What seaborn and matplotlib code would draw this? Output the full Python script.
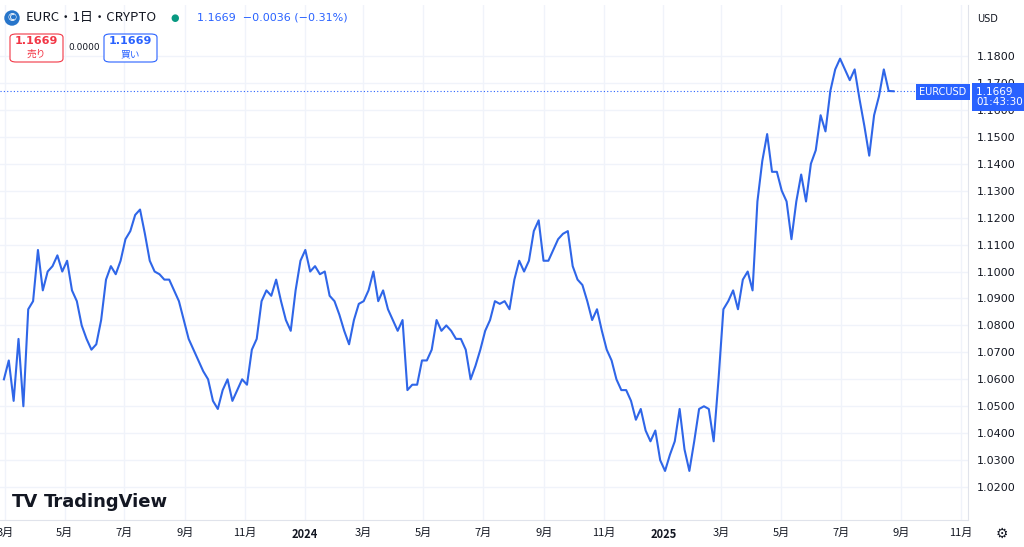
import matplotlib
matplotlib.use("Agg")
import matplotlib.pyplot as plt
import numpy as np
import pandas as pd
import seaborn as sns
from matplotlib.patches import FancyBboxPatch

# ==========================================
# DATA
# ==========================================
prices = [
    1.060, 1.067, 1.052, 1.075, 1.050, 1.086, 1.089, 1.108, 1.093, 1.100,
    1.102, 1.106, 1.100, 1.104, 1.093, 1.089, 1.080, 1.075, 1.071, 1.073,
    1.082, 1.097, 1.102, 1.099, 1.104, 1.112, 1.115, 1.121, 1.123, 1.114,
    1.104, 1.100, 1.099, 1.097, 1.097, 1.093, 1.089, 1.082, 1.075, 1.071,
    1.067, 1.063, 1.060, 1.052, 1.049, 1.056, 1.060, 1.052, 1.056, 1.060,
    1.058, 1.071, 1.075, 1.089, 1.093, 1.091, 1.097, 1.089, 1.082, 1.078,
    1.093, 1.104, 1.108, 1.100, 1.102, 1.099, 1.100, 1.091, 1.089, 1.084,
    1.078, 1.073, 1.082, 1.088, 1.089, 1.093, 1.100, 1.089, 1.093, 1.086,
    1.082, 1.078, 1.082, 1.056, 1.058, 1.058, 1.067, 1.067, 1.071, 1.082,
    1.078, 1.080, 1.078, 1.075, 1.075, 1.071, 1.060, 1.065, 1.071, 1.078,
    1.082, 1.089, 1.088, 1.089, 1.086, 1.097, 1.104, 1.100, 1.104, 1.115,
    1.119, 1.104, 1.104, 1.108, 1.112, 1.114, 1.115, 1.102, 1.097, 1.095,
    1.089, 1.082, 1.086, 1.078, 1.071, 1.067, 1.060, 1.056, 1.056, 1.052,
    1.045, 1.049, 1.041, 1.037, 1.041, 1.030, 1.026, 1.032, 1.037, 1.049,
    1.034, 1.026, 1.037, 1.049, 1.050, 1.049, 1.037, 1.060, 1.086, 1.089,
    1.093, 1.086, 1.097, 1.100, 1.093, 1.126, 1.141, 1.151, 1.137, 1.137,
    1.130, 1.126, 1.112, 1.126, 1.136, 1.126, 1.140, 1.145, 1.158, 1.152,
    1.167, 1.175, 1.179, 1.175, 1.171, 1.175, 1.164, 1.154, 1.143, 1.158,
    1.165, 1.175, 1.167, 1.1669,
]
START_DATE = "2023-02-28"
END_DATE = "2025-08-24"
LAST_PRICE = 1.1669

month_ticks = ["2023-03-01", "2023-05-01", "2023-07-01", "2023-09-01", "2023-11-01",
               "2024-01-01", "2024-03-01", "2024-05-01", "2024-07-01", "2024-09-01",
               "2024-11-01", "2025-01-01", "2025-03-01", "2025-05-01", "2025-07-01",
               "2025-09-01", "2025-11-01"]
month_labels = ["3月", "5月", "7月", "9月", "11月", "2024", "3月", "5月", "7月", "9月",
                "11月", "2025", "3月", "5月", "7月", "9月", "11月"]
price_ticks = [1.02, 1.03, 1.04, 1.05, 1.06, 1.07, 1.08, 1.09, 1.10, 1.11,
               1.12, 1.13, 1.14, 1.15, 1.16, 1.17, 1.18]

BLUE = "#2962ff"
LINE = "#2f66e8"
TXT = "#131722"
JP = "Noto Sans CJK JP"

df = pd.DataFrame({"date": pd.date_range(START_DATE, END_DATE, periods=len(prices)),
                   "price": prices})

fig = plt.figure(figsize=(10.24, 5.47), dpi=100)
W, H = 1024, 547
ax = fig.add_axes([0, (H - 520) / H, 968 / W, 515 / H])

sns.lineplot(data=df, x="date", y="price", ax=ax, color=LINE, linewidth=1.5)

ax.set_xlim(pd.Timestamp("2023-02-24"), pd.Timestamp("2025-11-08"))
ax.set_ylim(1.0078, 1.1989)
ax.set_xticks(pd.to_datetime(month_ticks))
ax.set_xticklabels(month_labels, fontfamily=JP, fontsize=8, color=TXT)
for lbl, txt in zip(ax.get_xticklabels(), month_labels):
    if txt in ("2024", "2025"):
        lbl.set_fontweight("bold")
ax.yaxis.tick_right()
ax.set_yticks(price_ticks)
ax.set_yticklabels([f"{v:.4f}" for v in price_ticks], fontsize=8, color=TXT)
ax.tick_params(length=0, pad=6)
ax.grid(True, color="#f0f3fa", linewidth=1)
ax.set_xlabel("")
ax.set_ylabel("")
for s in ["top", "left"]:
    ax.spines[s].set_visible(False)
ax.spines["right"].set_color("#e0e3eb")
ax.spines["bottom"].set_color("#e0e3eb")

ax.axhline(LAST_PRICE, color=BLUE, linestyle=(0, (1, 2)), linewidth=0.8)

# header
fig.text(12 / W, 1 - 18 / H, "©", fontsize=8, color="white", ha="center", va="center",
         bbox=dict(boxstyle="circle,pad=0.2", fc="#2775ca", ec="none"))
fig.text(26 / W, 1 - 18 / H, "EURC・1日・CRYPTO", fontfamily=JP, fontsize=9.5, color=TXT, va="center")
fig.text(175 / W, 1 - 18 / H, "●", fontsize=7, color="#089981", ha="center", va="center")
fig.text(197 / W, 1 - 18 / H, "1.1669  −0.0036 (−0.31%)", fontsize=8, color=BLUE, va="center")

for x0, col, label in [(10, "#f23645", "売り"), (104, BLUE, "買い")]:
    fig.patches.append(FancyBboxPatch((x0 / W, 1 - 62 / H), 53 / W, 28 / H,
                                      boxstyle="round,pad=0,rounding_size=0.006",
                                      transform=fig.transFigure, fc="white", ec=col, lw=0.8))
    fig.text((x0 + 26) / W, 1 - 41 / H, "1.1669", fontsize=8, color=col, ha="center",
             va="center", fontweight="bold")
    fig.text((x0 + 26) / W, 1 - 54 / H, label, fontfamily=JP, fontsize=7, color=col,
             ha="center", va="center")
fig.text(84 / W, 1 - 47 / H, "0.0000", fontsize=6.5, color=TXT, ha="center", va="center")

# last price tags
fig.text(943 / W, 1 - 92 / H, "EURCUSD", fontsize=7, color="white", ha="center", va="center",
         bbox=dict(boxstyle="square,pad=0.3", fc=BLUE, ec="none"), zorder=10)
fig.text(976 / W, 1 - 97 / H, "1.1669 \n01:43:30", fontsize=7.5, color="white", ha="left",
         va="center", linespacing=1.1, zorder=10,
         bbox=dict(boxstyle="square,pad=0.35", fc=BLUE, ec="none"))

fig.text(977 / W, 1 - 19 / H, "USD", fontsize=7, color=TXT, va="center")
fig.text(1002 / W, 1 - 534 / H, "⚙", fontsize=10, color=TXT, ha="center", va="center")

fig.text(12 / W, 1 - 502 / H, "TV", fontsize=13, fontweight="bold", color=TXT, va="center")
fig.text(44 / W, 1 - 502 / H, "TradingView", fontsize=13, fontweight="bold", color=TXT, va="center")

fig.savefig("out.png", dpi=100, facecolor="white")
